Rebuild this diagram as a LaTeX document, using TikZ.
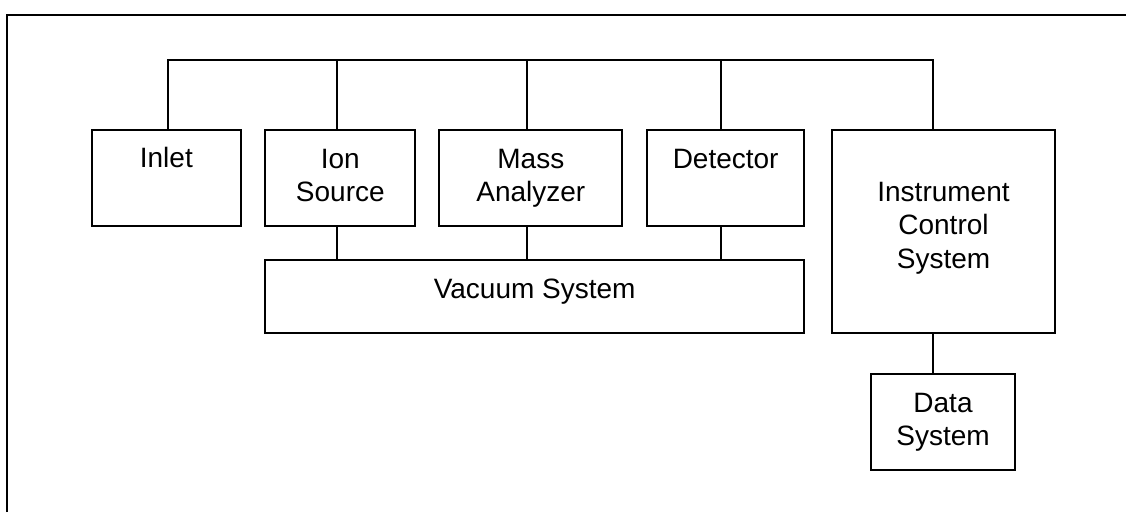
\documentclass[tikz,border=0pt]{standalone}
\usepackage{fontspec}
\setmainfont{Liberation Sans}
\usetikzlibrary{fit}
\begin{document}
\begin{tikzpicture}[x=1pt, y=-1pt,
  box/.style={draw, line width=1.8pt, inner sep=0pt, rectangle},
  wire/.style={line width=1.8pt},
  lbl/.style={anchor=base, inner sep=0pt, font=\fontsize{28}{33}\selectfont}]
  \useasboundingbox (0,0) rectangle (1126,512);

  % outer frame (top and left edges)
  \draw[wire] (7.3,512) -- (7.3,14.7) -- (1126,14.7);

  % component boxes
  \node[box, fit={(92,129.7) (240.7,225.7)}]   (inlet) {};
  \node[box, fit={(265.3,129.7) (415.3,225.7)}] (ion) {};
  \node[box, fit={(439.3,129.7) (622.3,225.7)}] (mass) {};
  \node[box, fit={(647.3,129.7) (804,225.7)}]   (det) {};
  \node[box, fit={(265.3,260) (804,333.3)}]     (vac) {};
  \node[box, fit={(832,129.7) (1055,333.3)}]    (ics) {};
  \node[box, fit={(871,374) (1015,470)}]        (data) {};

  % labels
  \node[lbl] (tInlet) at (inlet.center |- 0,167.7) {Inlet};
  \node[lbl] (tIon)   at (ion.center |- 0,168.2) {Ion};
  \node[lbl] (tSrc)   at (ion.center |- 0,201.6) {Source};
  \node[lbl] (tMass)  at (mass.center |- 0,168.2) {Mass};
  \node[lbl] (tAna)   at (mass.center |- 0,201.6) {Analyzer};
  \node[lbl] (tDet)   at (det.center |- 0,168.2) {Detector};
  \node[lbl] (tVac)   at (vac.center |- 0,298.3) {Vacuum System};
  \node[lbl] (tIns)   at (ics.center |- 0,201) {Instrument};
  \node[lbl] (tCtl)   at (ics.center |- 0,234.4) {Control};
  \node[lbl] (tSys)   at (ics.center |- 0,268) {System};
  \node[lbl] (tData)  at (data.center |- 0,412.7) {Data};
  \node[lbl] (tDSys)  at (data.center |- 0,445.5) {System};

  % bus junctions
  \coordinate (j1) at (168.3,59.7);
  \coordinate (j2) at (336.7,59.7);
  \coordinate (j3) at (526.7,59.7);
  \coordinate (j4) at (720.7,59.7);
  \coordinate (j5) at (933,59.7);

  % control bus
  \draw[wire] (inlet.north -| j1) -- (j1) -- (j5) -- (ics.north -| j5);
  \draw[wire] (ion.north -| j2) -- (j2);
  \draw[wire] (mass.north -| j3) -- (j3);
  \draw[wire] (det.north -| j4) -- (j4);

  % vacuum links
  \draw[wire] (ion.south -| j2) -- (vac.north -| j2);
  \draw[wire] (mass.south -| j3) -- (vac.north -| j3);
  \draw[wire] (det.south -| j4) -- (vac.north -| j4);

  % control to data
  \draw[wire] (ics.south -| j5) -- (data.north -| j5);
\end{tikzpicture}
\end{document}
